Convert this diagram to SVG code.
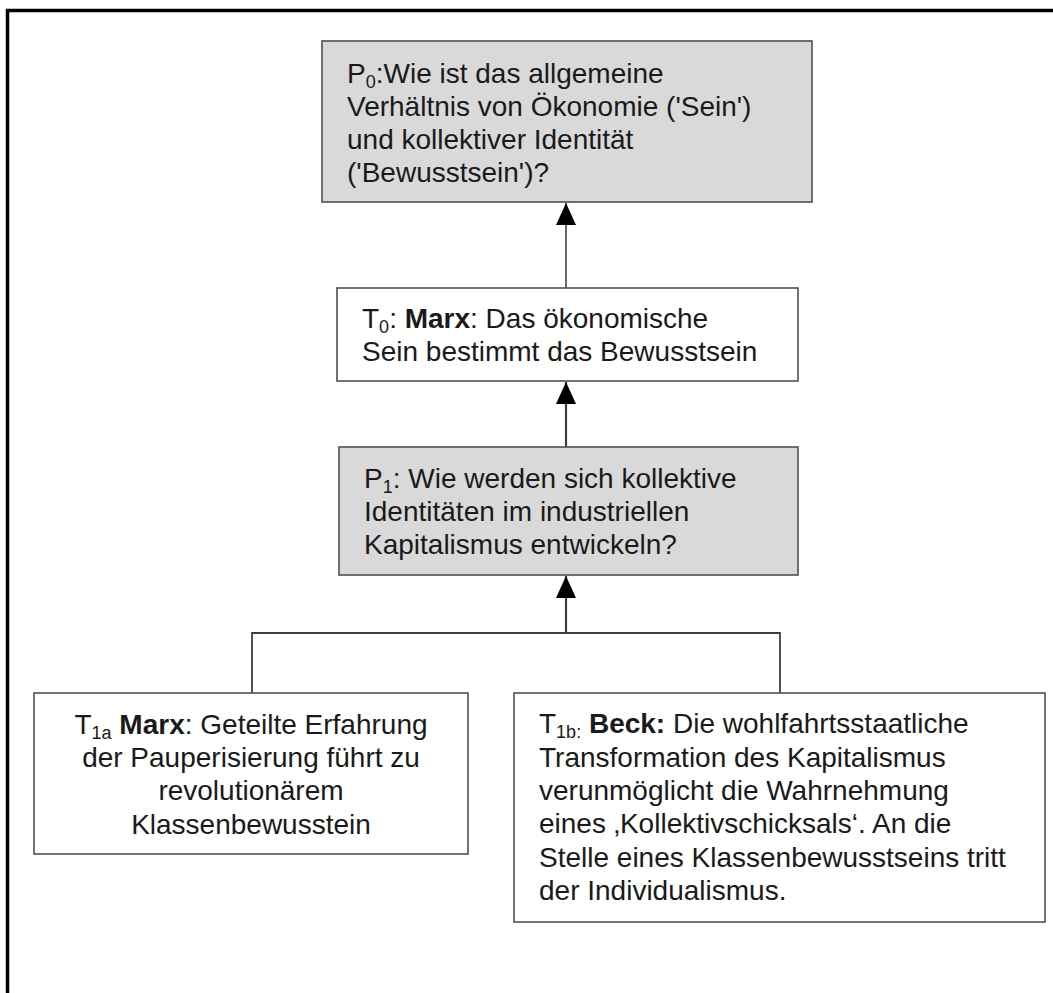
<svg xmlns="http://www.w3.org/2000/svg" width="1053" height="993" viewBox="0 0 1053 993">
<style>
.box{stroke:#505050;stroke-width:1.6}
.p{fill:#d9d9d9}
.t{fill:#ffffff}
text{font-family:"Liberation Sans",Arial,sans-serif;font-size:28px;fill:#1a1a1a}
.b{font-weight:bold}
.sub{font-size:18px}
.con{fill:none;stroke:#404040}
</style>
<defs>
<marker id="ah" markerWidth="20" markerHeight="22" refX="10" refY="0" orient="0" markerUnits="userSpaceOnUse" viewBox="0 0 20 22">
<path d="M0,22 L10,0 L20,22 Z" fill="#000"/>
</marker>
</defs>
<rect width="1053" height="993" fill="#ffffff"/>
<rect x="7.5" y="10.5" width="1070" height="1010" fill="none" stroke="#000" stroke-width="3.5"/>

<g id="connectors">
<line class="con" x1="566" y1="288" x2="566" y2="203" stroke-width="1.6" marker-end="url(#ah)"/>
<line class="con" x1="566" y1="447" x2="566" y2="382" stroke-width="2.2" marker-end="url(#ah)"/>
<line class="con" x1="566" y1="633" x2="566" y2="576" stroke-width="2.2" marker-end="url(#ah)"/>
<polyline class="con" points="252,693 252,633 780,633 780,693" stroke-width="1.8"/>
</g>

<g id="P0">
<rect class="box p" x="322" y="41" width="490" height="161"/>
<text x="347" y="83">P<tspan class="sub" dy="5">0</tspan><tspan dy="-5">:Wie ist das allgemeine</tspan></text>
<text x="347" y="116">Verhältnis von Ökonomie ('Sein')</text>
<text x="347" y="149">und kollektiver Identität</text>
<text x="347" y="182">('Bewusstsein')?</text>
</g>

<g id="T0">
<rect class="box t" x="337" y="288" width="461" height="93"/>
<text x="362" y="328">T<tspan class="sub" dy="5">0</tspan><tspan dy="-5">: </tspan><tspan class="b">Marx</tspan>: Das ökonomische</text>
<text x="362" y="361">Sein bestimmt das Bewusstsein</text>
</g>

<g id="P1">
<rect class="box p" x="339" y="447" width="459" height="128"/>
<text x="364" y="488">P<tspan class="sub" dy="5">1</tspan><tspan dy="-5">: Wie werden sich kollektive</tspan></text>
<text x="364" y="521">Identitäten im industriellen</text>
<text x="364" y="554">Kapitalismus entwickeln?</text>
</g>

<g id="T1a">
<rect class="box t" x="34" y="693" width="434" height="161"/>
<text x="251" y="734" text-anchor="middle">T<tspan class="sub" dy="5">1a</tspan><tspan dy="-5"> </tspan><tspan class="b">Marx</tspan>: Geteilte Erfahrung</text>
<text x="251" y="767" text-anchor="middle">der Pauperisierung führt zu</text>
<text x="251" y="800" text-anchor="middle">revolutionärem</text>
<text x="251" y="834" text-anchor="middle">Klassenbewusstein</text>
</g>

<g id="T1b">
<rect class="box t" x="514" y="693" width="531" height="229"/>
<text x="539" y="733">T<tspan class="sub" dy="5">1b:</tspan><tspan dy="-5"> </tspan><tspan class="b">Beck:</tspan> Die wohlfahrtsstaatliche</text>
<text x="539" y="767">Transformation des Kapitalismus</text>
<text x="539" y="800">verunmöglicht die Wahrnehmung</text>
<text x="539" y="833">eines ‚Kollektivschicksals‘. An die</text>
<text x="539" y="867">Stelle eines Klassenbewusstseins tritt</text>
<text x="539" y="900">der Individualismus.</text>
</g>
</svg>
